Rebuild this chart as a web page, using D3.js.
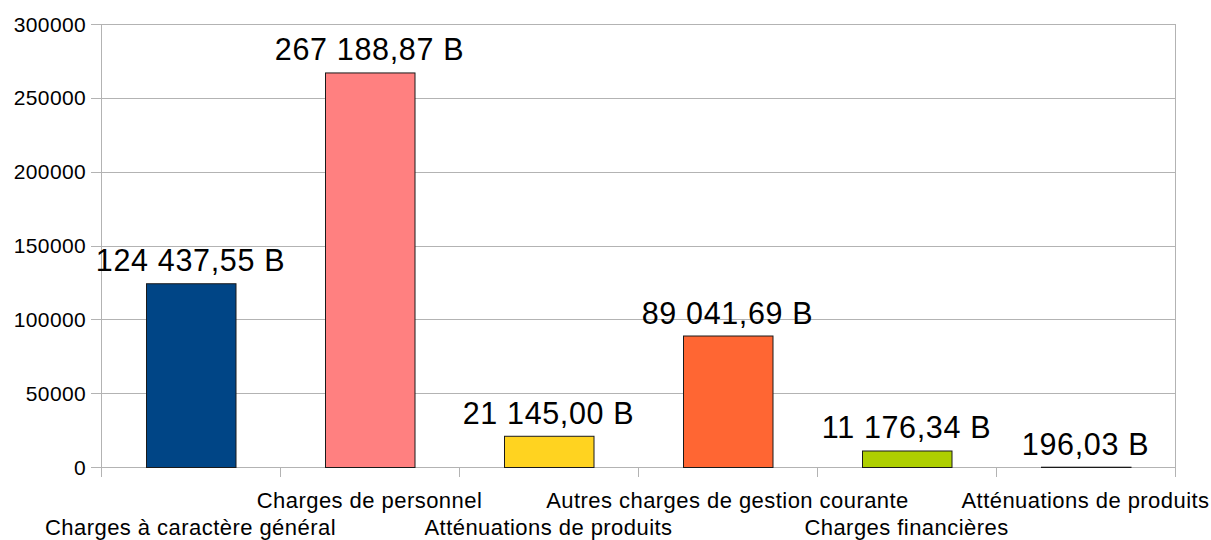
<!DOCTYPE html>
<html>
<head>
<meta charset="utf-8">
<script src="https://cdn.jsdelivr.net/npm/d3@7"></script>
<style>
  body { margin: 0; background: #fff; }
  text { font-family: "Liberation Sans", Arial, sans-serif; fill: #000; }
</style>
</head>
<body>
<div id="chart"></div>
<script>
// data
const categories = [
  "Charges à caractère général",
  "Charges de personnel",
  "Atténuations de produits",
  "Autres charges de gestion courante",
  "Charges financières",
  "Atténuations de produits "
];
const values = [124437.55, 267188.87, 21145.00, 89041.69, 11176.34, 196.03];
const valueLabels = ["124 437,55 B", "267 188,87 B", "21 145,00 B", "89 041,69 B", "11 176,34 B", "196,03 B"];
const colors = ["#004586", "#ff8080", "#ffd320", "#ff6633", "#aecf00", "#314004"];
const yTicks = [0, 50000, 100000, 150000, 200000, 250000, 300000];

const W = 1211, H = 540;
const plotLeft = 101, plotRight = 1175, plotTop = 24, plotBottom = 467;

const svg = d3.select('#chart')
  .append('svg')
  .attr('width', W)
  .attr('height', H);

const x = d3.scaleBand()
  .domain(categories)
  .range([plotLeft, plotRight])
  .paddingInner(0.5)
  .paddingOuter(0.25);

const y = d3.scaleLinear()
  .domain([0, 300000])
  .range([plotBottom, plotTop]);

// horizontal grid
svg.append('g')
  .selectAll('line')
  .data(yTicks)
  .join('line')
  .attr('x1', plotLeft - 10)
  .attr('x2', plotRight)
  .attr('y1', d => Math.round(y(d)) + 0.5)
  .attr('y2', d => Math.round(y(d)) + 0.5)
  .attr('stroke', '#b3b3b3')
  .attr('stroke-width', 1);

// y axis line
svg.append('line')
  .attr('x1', plotLeft + 0.5).attr('x2', plotLeft + 0.5)
  .attr('y1', plotTop).attr('y2', plotBottom + 10)
  .attr('stroke', '#b3b3b3');

// category separators on x axis
const step = (plotRight - plotLeft) / categories.length;
svg.append('g')
  .selectAll('line')
  .data(d3.range(1, categories.length + 1))
  .join('line')
  .attr('x1', i => Math.round(plotLeft + i * step) + 0.5)
  .attr('x2', i => Math.round(plotLeft + i * step) + 0.5)
  .attr('y1', i => i === categories.length ? plotTop : plotBottom)
  .attr('y2', plotBottom + 10)
  .attr('stroke', '#b3b3b3');

// y tick labels
svg.append('g')
  .selectAll('text')
  .data(yTicks)
  .join('text')
  .attr('x', plotLeft - 15)
  .attr('y', d => y(d) + 7.5)
  .attr('text-anchor', 'end')
  .style('font-size', '21px')
  .style('letter-spacing', '0.35px')
  .text(d => d);

// bars
svg.append('g')
  .selectAll('rect')
  .data(values)
  .join('rect')
  .attr('x', (d, i) => Math.round(x(categories[i])) + 0.5)
  .attr('y', d => y(d) + 0.5)
  .attr('width', x.bandwidth())
  .attr('height', d => Math.max(0, y(0) - y(d)))
  .attr('fill', (d, i) => colors[i])
  .attr('stroke', '#1a1a1a')
  .attr('stroke-width', 1);

// value labels
svg.append('g')
  .selectAll('text')
  .data(values)
  .join('text')
  .attr('x', (d, i) => x(categories[i]) + x.bandwidth() / 2)
  .attr('y', d => y(d) - 12)
  .attr('text-anchor', 'middle')
  .style('font-size', '30.5px')
  .style('letter-spacing', '0.65px')
  .text((d, i) => valueLabels[i]);

// category labels, staggered
svg.append('g')
  .selectAll('text')
  .data(categories)
  .join('text')
  .attr('x', d => x(d) + x.bandwidth() / 2)
  .attr('y', (d, i) => i % 2 === 0 ? 535 : 508)
  .attr('text-anchor', 'middle')
  .style('font-size', '22px')
  .style('letter-spacing', '0.45px')
  .text(d => d.trim());
</script>
</body>
</html>
